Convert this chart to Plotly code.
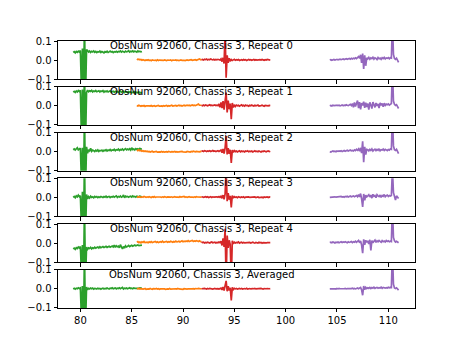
import numpy as np
import plotly.graph_objects as go
from plotly.subplots import make_subplots

# ---------------- data (values in units of 0.001) ----------------
panel_titles = [
    "ObsNum 92060, Chassis 3, Repeat 0",
    "ObsNum 92060, Chassis 3, Repeat 1",
    "ObsNum 92060, Chassis 3, Repeat 2",
    "ObsNum 92060, Chassis 3, Repeat 3",
    "ObsNum 92060, Chassis 3, Repeat 4",
    "ObsNum 92060, Chassis 3, Averaged",
]
x_ticks = [80, 85, 90, 95, 100, 105, 110]
y_ticks = [-0.1, 0.0, 0.1]
y_tick_text = ["\u22120.1", "0.0", "0.1"]

# frequency span of each band (GHz)
green_span = (79.3, 86.0)
orange_span = (85.5, 91.8)
red_span = (91.8, 98.5)
purple_span = (104.3, 111.0)

# Repeat 0
green_r0 = [40, 44, 38, 45, 41, 47, 42, 50, -150, 60, -200, 200, -200, 55,
            50, 42, 47, 40, 46, 43, 48,
            41, 45, 39, 44, 42, 47, 40, 45, 43, 38,
            44, 41, 46, 40, 43, 47, 42, 45, 39, 44,
            42, 46, 41, 45, 43, 48, 42, 46, 44, 41,
            47, 43, 45, 49, 42, 46, 44, 48, 43, 47,
            45, 42, 48, 44, 46, 43, 45]
orange_r0 = [6, 3, 5, 1, 3, -1, 2, 0, -2, 1, -1, 2, -2, 0, -3, 1, -1, -2, 0, -3,
             1, -2, 0, -1, -3, 0, -2, 1, -1, -3, 0, -2, -1, 1, -3, 0, -2, -1, 1, -2,
             0, -3, -1, 1, -2, 0, -1, -3, 0, 1, -2, 0, -1, 2, -1, 1, 0, 2, -1, 1,
             4, 6, 2, 1]
red_r0 = [1, 3, 0, 4, 2, 5, 1, 4, 2, 6, 3, 1, 4, 0, 3, 1, 4, 2, 0,
          6, -8, 12, -18, 150, -92, 25, -15, 10, -6,
          3, -2, 1, 4, -1, 2, 0, 3, -2, 1, 2, -1, 3, 0, 2, -2, 1, 3, 0, 2,
          -1, 1, 3, -1, 2, 0, 1, -2, 2, 0, 3, 1, -1, 2, 0, 3, 1, 2, 0]
purple_r0 = [0, 2, -1, 1, 3, 0, 2, 4, 1, 3, 5, 2, 4, 6, 3, 5, 7, 4, 6, 8,
             5, 9, 6, 10, 7, 12, 8, 14,
             18, 10, 28, -15, 34, -46, 25, -30, 12,
             6, 14, 4, 11, 8, 15, 5, 12, 9, 3, 13, 7, 10, 4, 12, 8, 14, 6, 11, 9, 13, 7, 12,
             10, 200, 30,
             8, 4, 10, 2, -12]

# Repeat 1
green_r1 = [72, 76, 70, 78, 73, 80, 75, 82, -150, 85, -200, 200, -200, 70,
            82, 74, 79, 76, 81, 73, 78, 75, 80, 74, 77, 79, 73, 78, 75, 80, 72, 77, 74, 78,
            73, 76, 79, 72, 75, 77, 71, 76, 73, 75, 70, 74, 77, 71, 73, 76, 70, 74, 72, 69,
            75, 71, 73, 68, 72, 70, 74, 68, 71, 69, 73, 67, 70, 68]
orange_r1 = [2, -1, 3, 0, -2, 1, -1, 2, -3, 0, 1, -2, 0, -1, 2, -2, 0, 1, -3, 0,
             -1, 2, -2, 1, 0, -2, 1, -1, 0, 2, -2, 1, -1, 0, 3, -1, 1, 0, 2, -1,
             1, 3, 0, 2, -1, 1, 3, 0, 2, 4, 1, 3, 0, 2, 5, 2, 4, 1, 3, 6, 9, 4, 2, 3]
red_r1 = [3, 0, 4, 1, 5, 2, 0, 3, 6, 2, 4, 1, 3, 5, 2, 4, 1,
          10, -8, 18, -12, 25, -20, 30, 70, -35, 28, -18, 12,
          -70,
          15, -8, 6, -3, 4, 0, 3, -2, 2, 5, 0, 3, -1, 4, 1, 2, -2, 3, 0, 4,
          1, -1, 3, 0, 2, 4, -1, 2, 1, 3, 0, -2, 2, 1, 3, 0, 2, 1]
purple_r1 = [0, 2, -1, 3, 1, 0, 2, 4, 1, 3, 0, 2, 5, 1, 4, 2, 6, 3, 1, 5, 8, 2,
             12, -8, 18, -4, 10, 28, -12, 20, -18, 14, 2, 22, -10, 16, -6, 12, -20, 18,
             4, -14, 20, 6, -8, 15, 0, 10, -12, 16, 3, 12, -5, 14, 2, 9,
             6, 10, 4, 8, 12,
             200,
             25, 8, 2, 6, -4, -14]

# Repeat 2
green_r2 = [10, 14, 8, 16, 20, 9, 13, 18, -150, 20, -200, 200, -200,
            25, -8, 10, 4, 18, 2, 8, 5, 0, 7, 3, 9, 1, 6, 4, 8, 2, 7, 5, 10,
            3, 8, 6, 11, 4, 9, 7, 12, 5, 10, 8, 13, 6, 11, 9, 14, 7, 12, 16, 9,
            13, 10, 15, 8, 20, 11, 14, 9, 16, 12, 15, 10, 17, 13, 15]
orange_r2 = [8, 5, 9, 4, 6, 2, 5, 1, 3, 0, 2, -1, 1, -2, 0, 2, -2, 0, -1, 1,
             -3, 0, -1, -2, 1, -2, 0, -3, -1, 0, -2, 1, -1, -3, 0, -2, -1, 1, -2, 0,
             -3, -1, 0, -2, 1, -1, -2, 0, -3, 1, -1, 0, -2, 1, -1, 2, 0, -1, 1, 0,
             2, -1, 1, 0]
red_r2 = [2, 4, 1, 5, 3, 0, 4, 2, 5, 1, 3, 6, 2, 4, 0, 3, 5, 1, 4,
          8, -6, 14, -10, 20, 82, -15, 18, -12, 10,
          -60,
          8, -4, 5, 0, 3, -2, 2, 4, -1, 3, 0, 2, -2, 3, 1, 4, -1, 2, 0, 3,
          -2, 1, 4, 0, 2, -1, 3, 1, -2, 2, 0, 3, 1, -1, 2, 4, 0, 2]
purple_r2 = [0, -2, 1, 3, 0, 2, -1, 3, 1, 4, 2, 5, 1, 3, 6, 2, 4, 7, 3, 5, 8, 4, 6, 3, 9, 5, 12, 7,
             14, 2, 20, -8, 54, -56, 25, -15, 12,
             10, 4, 12, 6, 14, 3, 9, 13, 5, 11, 7, 15, 4, 10, 8, 13, 6, 12, 9, 5, 11, 8, 14,
             12, 200, 30,
             10, 6, 12, 0, -10]

# Repeat 3
green_r3 = [0, 5, -2, 8, 3, 12, 4, 9, -150, 30, -200, 200, -200,
            15, -8, 4, -3, 6, 0, 3, -2, 5, 1, 4, -1, 3, 0, 5, 2, -1, 4, 1, 6,
            0, 3, 5, -1, 4, 2, 6, 1, 3, 8, 0, 5, 2, 7, 1, 4, 12, -2, 6, 3,
            5, 1, 4, 6, 2, 8, 3, 5, 1, 6, 4, 2, 7, 3, 5]
orange_r3 = [3, 1, 4, 2, 0, 3, 1, 5, 2, 0, 3, 1, 4, 2, -1, 3, 1, 4, 0, 2,
             3, 1, 5, 2, 0, 3, 1, 4, 2, 0, 3, 2, 5, 1, 3, 0, 2, 4, 1, 3,
             2, 0, 4, 1, 3, 2, 5, 1, 3, 0, 2, 4, 1, 3, 2, 0, 3, 1, 4, 2, 1, 3, 2, 1]
red_r3 = [1, 3, 0, 2, 4, 1, 3, -1, 2, 4, 0, 3, 1, 2, -1, 3, 1, 4, 0,
          6, -5, 12, -10, 18, 150, -20, 22, -12, 8,
          -52,
          10, -4, 4, 0, 2, -2, 3, 1, -1, 2, 0, 3, -2, 1, 2, -1, 3, 0, 1, -2,
          2, 0, 3, -1, 1, 2, -1, 0, 3, 1, -2, 2, 0, 1, 3, -1, 2, 0]
purple_r3 = [0, 1, -1, 2, 0, 3, 1, 2, 4, 1, 3, 5, 2, 4, 1, 5, 3, 6, 2, 4, 7, 3, 5, 8, 4, 6,
             10, 4, 15, 2, 20, -8, -50, 18, -15, 12, 3,
             8, 14, 2, 12, -4, 16, 6, 10, -2, 14, 8, 4, 12, 0, 10, 6, 15, 3, 9, 12, 5, 10, 7,
             10, 150, 25,
             6, -14, 8, 2, -6]

# Repeat 4
green_r4 = [-30, -26, -32, -24, -28, -20, -25, -18, -150, -10, -200, 200, -200,
            -20, -32, -25, -28, -22, -30, -24, -27, -21, -26, -23, -20, -25, -19, -24, -21,
            -18, -23, -20, -17, -22, -19, -16, -21, -18, -15, -20, -10, -22, -14, -19, -16,
            -24, -8, -20, -30, -18, -26, -14, -20, -17, -12, -18, -15, -11, -16, -13, -10,
            -14, -12, -9, -13, -11, -8, -10]
orange_r4 = [5, 8, 3, 6, 2, 7, 4, 9, 3, 6, 5, 2, 7, 4, 8, 3, 6, 5, 9, 4,
             7, 3, 6, 8, 5, 10, 4, 7, 6, 9, 5, 8, 6, 10, 7, 5, 9, 6, 11, 7,
             8, 10, 6, 9, 12, 7, 10, 8, 11, 9, 13, 8, 11, 10, 14, 9, 12, 10, 13, 11,
             9, 12, 8, 10]
red_r4 = [6, 3, 5, 1, 4, 2, 5, 3, 1, 4, 6, 2, 3, 5, 1, 4, 2, 6, 3,
          10, -12, 25, -20, 75, -200, 40, -25, 15, -8,
          -200,
          12, -3, 5, 1, 4, 2, 6, 0, 3, 5, 1, 4, 2, 3, 0, 5, 2, 4, 1, 3,
          5, 2, 0, 4, 3, 1, 5, 2, 4, 0, 3, 2, 5, 1, 3, 4, 2, 3]
purple_r4 = [3, 5, 2, 6, 4, 1, 5, 3, 6, 2, 5, 7, 3, 6, 4, 8, 5, 2, 7, 4, 6, 9, 3, 7, 5, 10, 4, 8, 14, 2, 12,
             -10, -52, 20, -8, 15, 4,
             12, -5, 18, -38, 14, 2, 10, 16, 4, 12, 7, 14, 9, 5, 13, 8, 11, 6, 14, 9, 12, 7, 10,
             8, 200, 30,
             12, 6, 10, 4, 2]

# Averaged
green_avg = [0, 3, -1, 4, 1, 6, 2, 5, -150, 15, -200, 200, -200,
             10, -5, 3, 0, 5, 1, 4, -1, 3, 2, 0, 4, 1, 3, -1, 2, 4, 0, 3, 1,
             5, 2, 0, 4, 2, 6, 1, 3, 5, 0, 4, 2, 6, 1, 3, 8, 0, 4, 2, 5,
             1, 3, 6, 2, 4, 1, 5, 3, 2, 4, 1, 3, 5, 2, 3]
orange_avg = [2, 0, 3, -1, 1, 2, -1, 0, 2, -2, 1, 0, -1, 2, 0, -2, 1, -1, 0, 2,
              -1, 1, -2, 0, 1, -1, 2, 0, -2, 1, 0, -1, 2, -1, 0, 1, -2, 0, 1, -1,
              2, 0, -1, 1, 0, -2, 1, 0, 2, -1, 1, 0, -1, 2, 0, 1, -1, 2, 0, 1,
              3, 0, 1, 0]
red_avg = [1, 2, 0, 3, 1, -1, 2, 0, 3, 1, 2, -1, 1, 3, 0, 2, 1, -1, 2,
           4, -5, 10, -8, 15, 42, -12, 14, -8, 6,
           -60,
           8, -3, 3, 0, 2, -1, 1, 3, 0, 2, -1, 1, 2, 0, 3, -1, 1, 2, 0, -1,
           2, 1, 3, 0, 1, -1, 2, 0, 3, 1, -1, 2, 0, 1, 2, 0, 1, 2]
purple_avg = [0, 1, -1, 2, 0, 1, -1, 2, 0, 3, 1, 0, 2, -1, 1, 3, 0, 2, 1, 3, 0, 2, 4, 1, 3, 0, 2, 5, 1, 3, 8,
              -5, -33, 15, -4, 8, 2,
              6, 3, 8, 2, 7, 4, 9, 3, 6, 8, 4, 7, 5, 9, 3, 8, 6, 4, 7, 5, 9, 6, 8,
              7, 200, 25,
              5, 2, 6, 0, -6]

panels = [
    (green_r0, orange_r0, red_r0, purple_r0),
    (green_r1, orange_r1, red_r1, purple_r1),
    (green_r2, orange_r2, red_r2, purple_r2),
    (green_r3, orange_r3, red_r3, purple_r3),
    (green_r4, orange_r4, red_r4, purple_r4),
    (green_avg, orange_avg, red_avg, purple_avg),
]
spans = [green_span, orange_span, red_span, purple_span]
colors = ["#2ca02c", "#ff7f0e", "#d62728", "#9467bd"]

# ---------------- figure ----------------
n = len(panels)
fig = make_subplots(rows=n, cols=1, shared_xaxes=True, vertical_spacing=1 / 35)

for r, segs in enumerate(panels, start=1):
    for vals, span, col in zip(segs, spans, colors):
        y = np.array(vals, dtype=float) / 1000.0
        x = np.linspace(span[0], span[1], len(y))
        fig.add_trace(go.Scatter(x=x, y=y, mode="lines",
                                 line=dict(color=col, width=1.7),
                                 showlegend=False, hoverinfo="skip"),
                      row=r, col=1)
    fig.add_annotation(text=panel_titles[r - 1], xref="x%s domain" % ("" if r == 1 else r),
                       yref="y%s domain" % ("" if r == 1 else r), x=0.403, y=1.0,
                       xanchor="center", yanchor="top", showarrow=False, yshift=2,
                       font=dict(family="DejaVu Sans", size=10, color="black"),
                       borderpad=0)

axis_common = dict(showline=True, mirror=True, linecolor="black", linewidth=0.8,
                   ticks="outside", ticklen=3.5, tickwidth=0.8, tickcolor="black",
                   showgrid=False, zeroline=False,
                   tickfont=dict(family="DejaVu Sans", size=10, color="black"))
fig.update_xaxes(range=[77.82, 112.6], tickvals=x_ticks, **axis_common)
fig.update_yaxes(range=[-0.1, 0.1], tickvals=y_ticks, ticktext=y_tick_text, **axis_common)

fig.update_layout(width=461, height=346,
                  margin=dict(l=58, r=46, t=41, b=38, pad=0),
                  paper_bgcolor="white", plot_bgcolor="white",
                  font=dict(family="DejaVu Sans", size=10, color="black"),
                  showlegend=False)

fig.write_html("out.html")
